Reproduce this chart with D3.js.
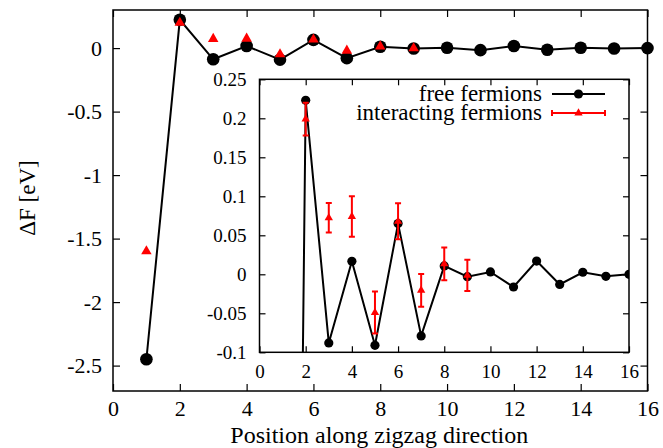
<!DOCTYPE html>
<html>
<head>
<meta charset="utf-8">
<script src="https://cdn.jsdelivr.net/npm/d3@7"></script>
<style>
  html, body { margin: 0; padding: 0; background: #fff; }
  svg { display: block; font-family: "Liberation Serif", "DejaVu Serif", serif; }
  svg text { font-family: "Liberation Serif", "DejaVu Serif", serif; }
  .axis text { fill: #000; }
  .axis line { stroke: #000; stroke-width: 1.2; }
</style>
</head>
<body>
<svg id="chart" width="663" height="448"></svg>
<script>
// ---------------- data ----------------
const positions = [1, 2, 3, 4, 5, 6, 7, 8, 9, 10, 11, 12, 13, 14, 15, 16];
const freeValues = [-2.45, 0.223, -0.088, 0.0167, -0.091, 0.065, -0.079, 0.0107, -0.003, 0.003, -0.0163, 0.017, -0.013, 0.0026, -0.0026, 0.0];
const interPositions = [1, 2, 3, 4, 5, 6, 7, 8, 9];
const interValues = [-1.6, 0.199, 0.0725, 0.074, -0.049, 0.068, -0.0205, 0.0135, -0.0015];
const interErrors = [0.02, 0.021, 0.019, 0.026, 0.027, 0.023, 0.021, 0.021, 0.02];

const mainXTicks = [0, 2, 4, 6, 8, 10, 12, 14, 16];
const mainYTicks = [-2.5, -2, -1.5, -1, -0.5, 0];
const insetXTicks = [0, 2, 4, 6, 8, 10, 12, 14, 16];
const insetYTicks = [-0.1, -0.05, 0, 0.05, 0.1, 0.15, 0.2, 0.25];

const seriesNames = ["free fermions", "interacting fermions"];
const xTitle = "Position along zigzag direction";
const yTitle = "ΔF [eV]";

// ---------------- layout ----------------
const svg = d3.select("#chart");
const SERIF = '"Liberation Serif", "DejaVu Serif", serif';
const M = { left: 113, right: 647.5, top: 10, bottom: 391 };
const I = { left: 259.5, right: 629, top: 79.3, bottom: 352.3 };

const x = d3.scaleLinear().domain([0, 16]).range([M.left, M.right]);
const y = d3.scaleLinear().domain([-2.7, 0.3]).range([M.bottom, M.top]);
const xi = d3.scaleLinear().domain([0, 16]).range([I.left, I.right]);
const yi = d3.scaleLinear().domain([-0.1, 0.25]).range([I.bottom, I.top]);

const mainFont = 22, insetFont = 19;

function styleAxis(g, fs) {
  g.select(".domain").remove();
  g.attr("font-family", SERIF).attr("font-size", fs);
  g.selectAll("text").style("font-size", fs + "px").style("font-family", SERIF);
}

// ---------------- main axes ----------------
svg.append("g").attr("class", "axis").attr("transform", `translate(0,${M.bottom})`)
  .call(d3.axisBottom(x).tickValues(mainXTicks).tickFormat(d => String(d)).tickSizeInner(-7).tickSizeOuter(0).tickPadding(9))
  .call(g => styleAxis(g, mainFont));
svg.append("g").attr("class", "axis").attr("transform", `translate(0,${M.top})`)
  .call(d3.axisTop(x).tickValues(mainXTicks).tickFormat("").tickSizeInner(-7).tickSizeOuter(0))
  .call(g => styleAxis(g, mainFont));
svg.append("g").attr("class", "axis").attr("transform", `translate(${M.left},0)`)
  .call(d3.axisLeft(y).tickValues(mainYTicks).tickFormat(d => String(d)).tickSizeInner(-7).tickSizeOuter(0).tickPadding(11))
  .call(g => styleAxis(g, mainFont));
svg.append("g").attr("class", "axis").attr("transform", `translate(${M.right},0)`)
  .call(d3.axisRight(y).tickValues(mainYTicks).tickFormat("").tickSizeInner(-7).tickSizeOuter(0))
  .call(g => styleAxis(g, mainFont));

svg.append("rect").attr("x", M.left).attr("y", M.top)
  .attr("width", M.right - M.left).attr("height", M.bottom - M.top)
  .attr("fill", "none").attr("stroke", "#000").attr("stroke-width", 1.5);

// titles
svg.append("text").attr("x", (M.left + M.right) / 2 - 1).attr("y", 442.5)
  .attr("text-anchor", "middle").style("font-size", "24px").text(xTitle);
svg.append("text").attr("transform", `translate(35,198) rotate(-90)`)
  .attr("text-anchor", "middle").style("font-size", "23px").text(yTitle);

// ---------------- main data ----------------
const freeData = positions.map((p, i) => ({ p, v: freeValues[i] }));
const interData = interPositions.map((p, i) => ({ p, v: interValues[i], e: interErrors[i] }));

svg.append("path").datum(freeData)
  .attr("d", d3.line().x(d => x(d.p)).y(d => y(d.v)))
  .attr("fill", "none").attr("stroke", "#000").attr("stroke-width", 2);
svg.append("g").selectAll("circle").data(freeData).join("circle")
  .attr("cx", d => x(d.p)).attr("cy", d => y(d.v)).attr("r", 6.3).attr("fill", "#000");

const triMain = d3.symbol().type(d3.symbolTriangle).size(48);
svg.append("g").selectAll("path").data(interData).join("path")
  .attr("transform", d => `translate(${x(d.p)},${y(d.v)})`)
  .attr("d", triMain).attr("fill", "#ff0000");

// ---------------- inset ----------------
svg.append("rect").attr("x", I.left).attr("y", I.top)
  .attr("width", I.right - I.left).attr("height", I.bottom - I.top)
  .attr("fill", "#fff");

svg.append("defs").append("clipPath").attr("id", "insetClip")
  .append("rect").attr("x", I.left).attr("y", I.top)
  .attr("width", I.right - I.left).attr("height", I.bottom - I.top);

svg.append("g").attr("class", "axis").attr("transform", `translate(0,${I.bottom})`)
  .call(d3.axisBottom(xi).tickValues(insetXTicks).tickFormat(d => String(d)).tickSizeInner(-6).tickSizeOuter(0).tickPadding(12))
  .call(g => styleAxis(g, insetFont));
svg.append("g").attr("class", "axis").attr("transform", `translate(0,${I.top})`)
  .call(d3.axisTop(xi).tickValues(insetXTicks).tickFormat("").tickSizeInner(-6).tickSizeOuter(0))
  .call(g => styleAxis(g, insetFont));
svg.append("g").attr("class", "axis").attr("transform", `translate(${I.left},0)`)
  .call(d3.axisLeft(yi).tickValues(insetYTicks).tickFormat(d => String(d)).tickSizeInner(-6).tickSizeOuter(0).tickPadding(13))
  .call(g => styleAxis(g, insetFont));
svg.append("g").attr("class", "axis").attr("transform", `translate(${I.right},0)`)
  .call(d3.axisRight(yi).tickValues(insetYTicks).tickFormat("").tickSizeInner(-6).tickSizeOuter(0))
  .call(g => styleAxis(g, insetFont));

const inset = svg.append("g").attr("clip-path", "url(#insetClip)");
inset.append("path").datum(freeData)
  .attr("d", d3.line().x(d => xi(d.p)).y(d => yi(d.v)))
  .attr("fill", "none").attr("stroke", "#000").attr("stroke-width", 2);
inset.append("g").selectAll("circle").data(freeData).join("circle")
  .attr("cx", d => xi(d.p)).attr("cy", d => yi(d.v)).attr("r", 4.6).attr("fill", "#000");

const errG = inset.append("g").attr("stroke", "#ff0000").attr("stroke-width", 2);
const cap = 3;
interData.forEach(d => {
  const cx = xi(d.p), y1 = yi(d.v - d.e), y2 = yi(d.v + d.e);
  errG.append("line").attr("x1", cx).attr("x2", cx).attr("y1", y1).attr("y2", y2);
  errG.append("line").attr("x1", cx - cap).attr("x2", cx + cap).attr("y1", y1).attr("y2", y1);
  errG.append("line").attr("x1", cx - cap).attr("x2", cx + cap).attr("y1", y2).attr("y2", y2);
});
const triInset = d3.symbol().type(d3.symbolTriangle).size(30);
inset.append("g").selectAll("path").data(interData).join("path")
  .attr("transform", d => `translate(${xi(d.p)},${yi(d.v)})`)
  .attr("d", triInset).attr("fill", "#ff0000");

svg.append("rect").attr("x", I.left).attr("y", I.top)
  .attr("width", I.right - I.left).attr("height", I.bottom - I.top)
  .attr("fill", "none").attr("stroke", "#000").attr("stroke-width", 1.5);

// ---------------- legend ----------------
const legend = svg.append("g").style("font-size", "23px");
const lx1 = 552, lx2 = 605, lmid = 578.5;
const ly = [94, 113];
legend.append("text").attr("x", 542).attr("y", ly[0]).attr("dy", "0.3em")
  .attr("text-anchor", "end").text(seriesNames[0]);
legend.append("text").attr("x", 542).attr("y", ly[1]).attr("dy", "0.3em")
  .attr("text-anchor", "end").text(seriesNames[1]);
legend.append("line").attr("x1", lx1).attr("x2", lx2).attr("y1", ly[0]).attr("y2", ly[0])
  .attr("stroke", "#000").attr("stroke-width", 2);
legend.append("circle").attr("cx", lmid).attr("cy", ly[0]).attr("r", 4.6).attr("fill", "#000");
legend.append("line").attr("x1", lx1).attr("x2", lx2).attr("y1", ly[1]).attr("y2", ly[1])
  .attr("stroke", "#ff0000").attr("stroke-width", 2);
[lx1, lx2].forEach(xx => legend.append("line").attr("x1", xx).attr("x2", xx)
  .attr("y1", ly[1] - cap).attr("y2", ly[1] + cap).attr("stroke", "#ff0000").attr("stroke-width", 2));
legend.append("path").attr("transform", `translate(${lmid},${ly[1]})`)
  .attr("d", triInset).attr("fill", "#ff0000");
</script>
</body>
</html>
